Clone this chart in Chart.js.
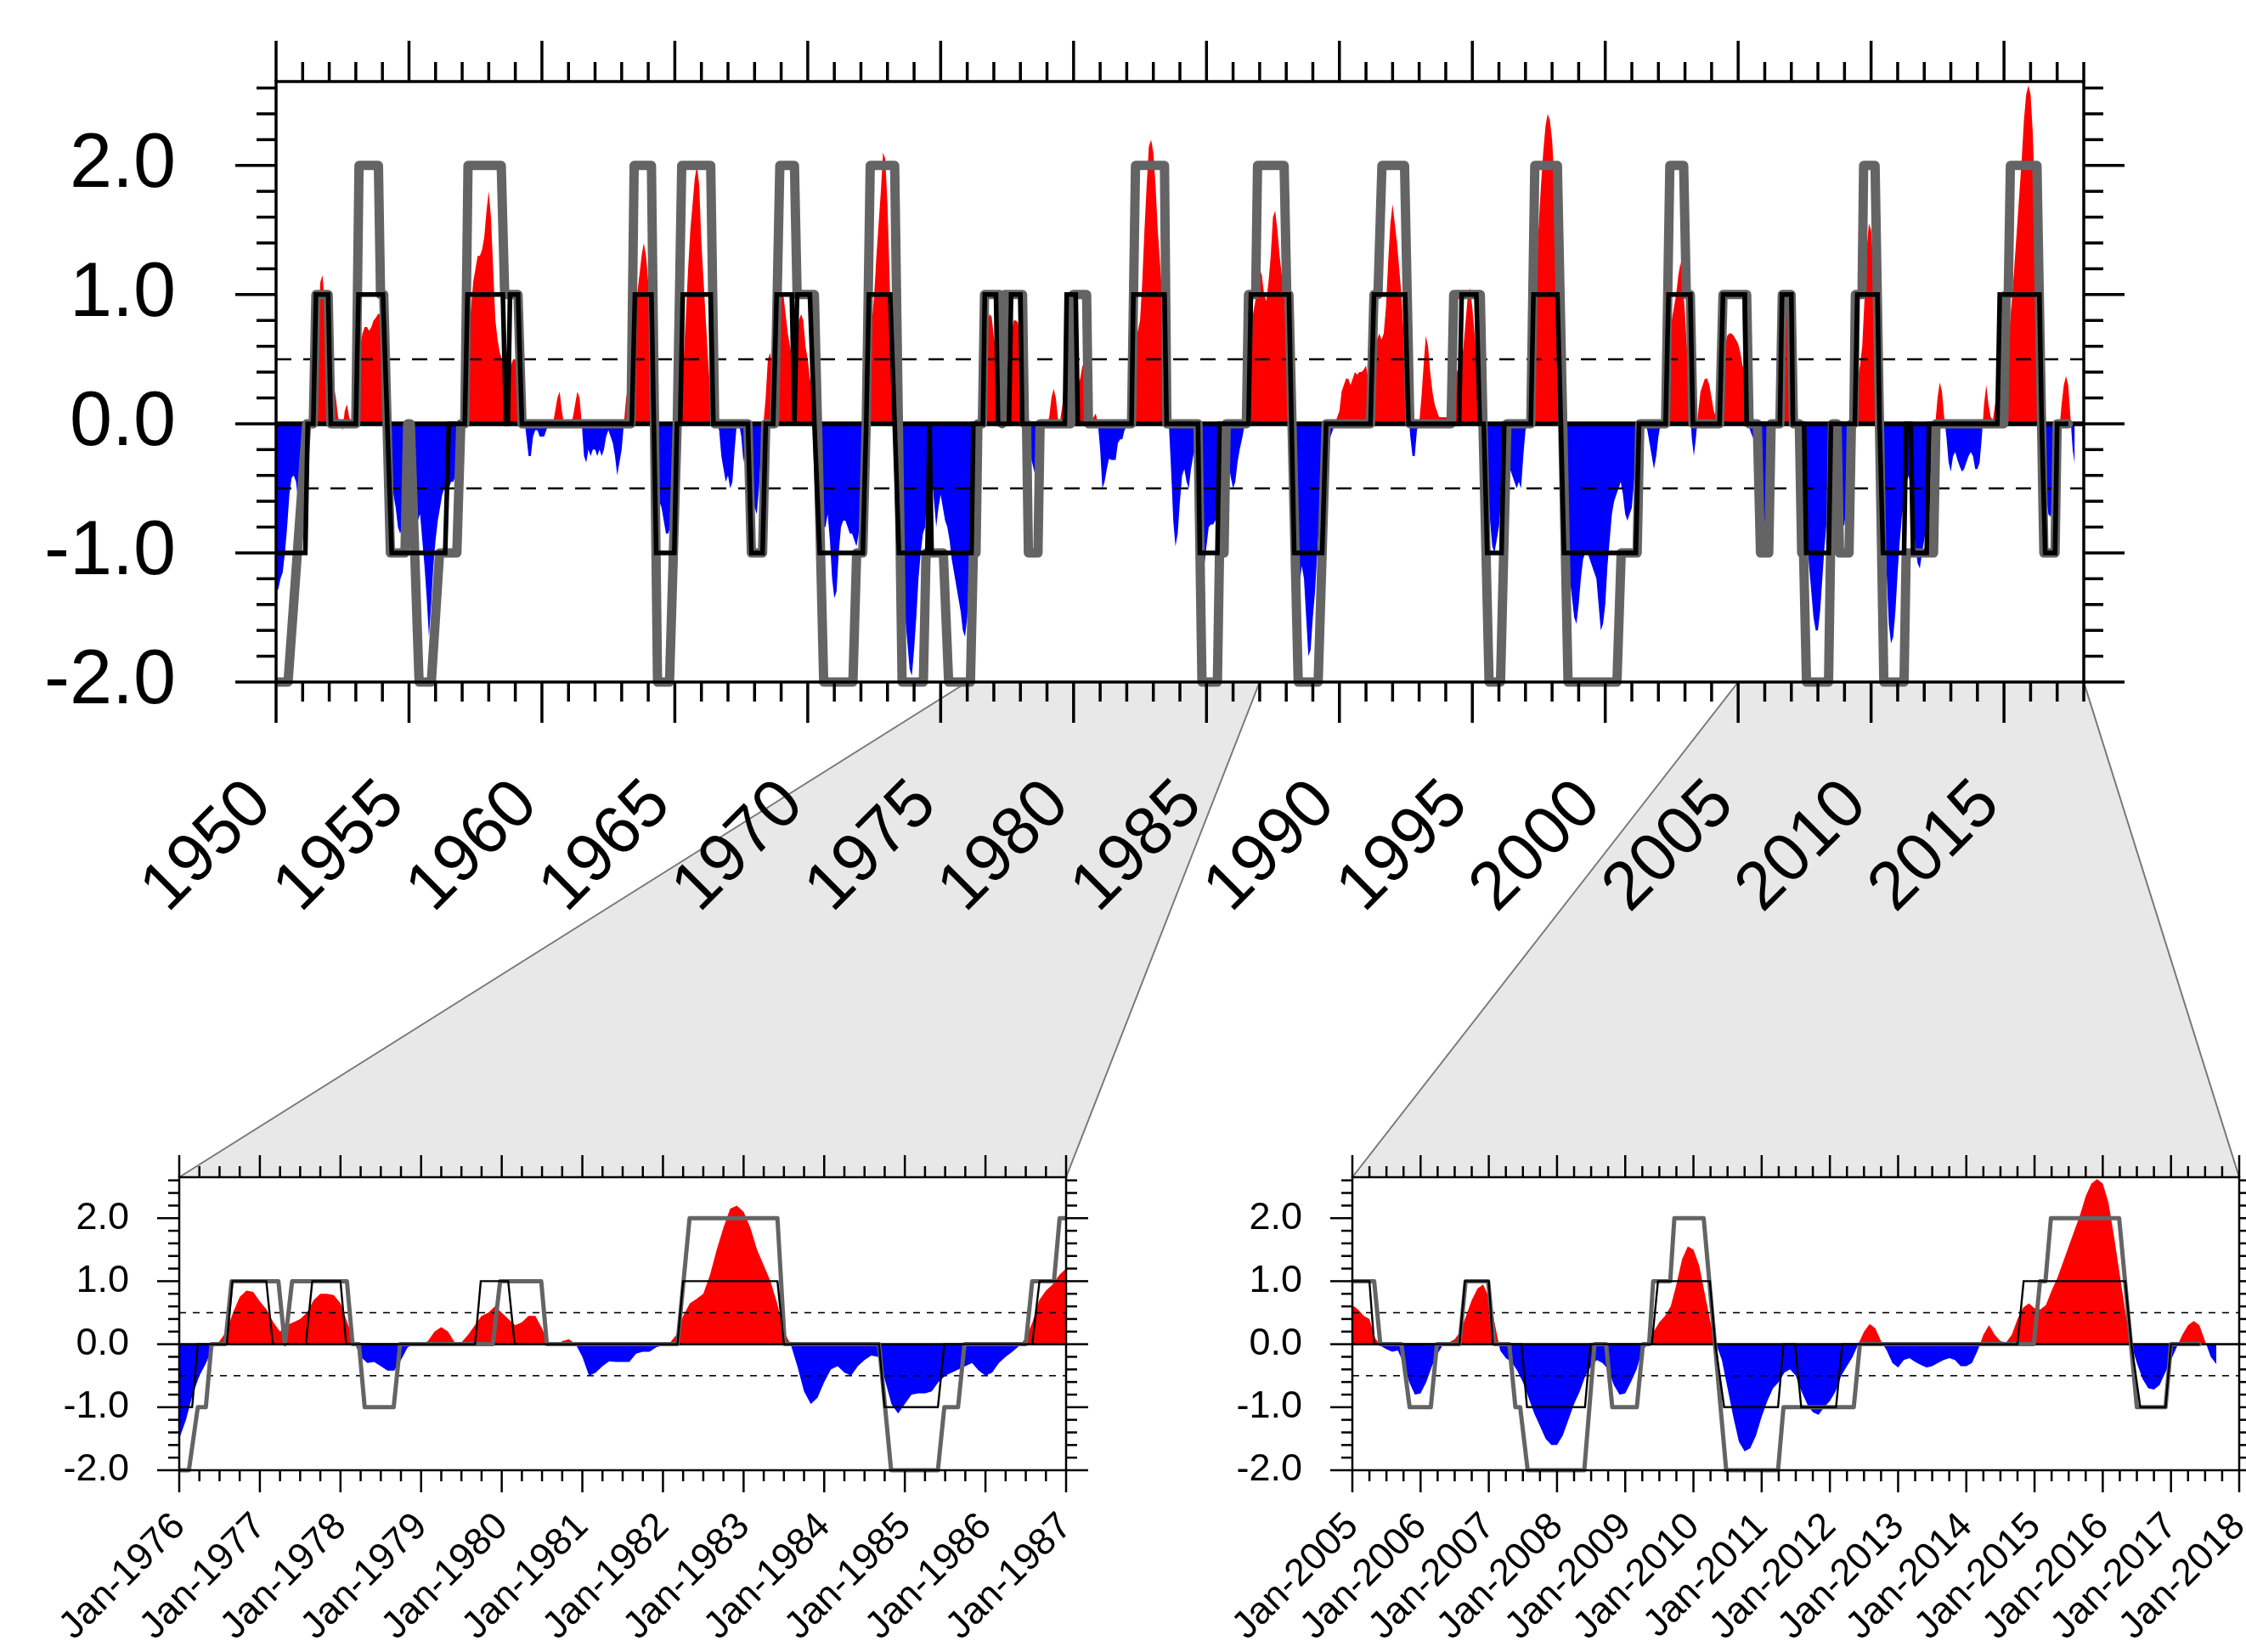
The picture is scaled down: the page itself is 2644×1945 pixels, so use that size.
<!DOCTYPE html>
<html>
<head>
<meta charset="utf-8">
<title>Nino index and event classes</title>
<script src="https://cdn.jsdelivr.net/npm/chart.js@4"></script>
<style>
  body { margin: 0; background: #fff; }
  #wrap { position: relative; width: 2644px; height: 1945px; }
  #wrap canvas { position: absolute; left: 0; top: 0; }
</style>
</head>
<body>
<div id="wrap">
  <canvas id="links" width="2644" height="1945"></canvas>
  <canvas id="mainChart" width="2644" height="1945"></canvas>
  <canvas id="zoomA" width="2644" height="1945"></canvas>
  <canvas id="zoomB" width="2644" height="1945"></canvas>
</div>
<script>
// monthly index, Jan 1950 .. Sep 2017, one row per year
const startYear = 1950;
const indexValues = [
  -1.30, -1.28, -1.20, -1.15, -1.00, -0.80, -0.55, -0.42, -0.40, -0.45, -0.60, -0.78, // 1950
  -0.85, -0.60, -0.40, -0.10, 0.10, 0.30, 0.55, 0.80, 1.10, 1.15, 0.90, 0.70,
  0.45, 0.30, 0.30, 0.20, 0.05, 0.00, -0.05, 0.10, 0.15, 0.05, 0.00, 0.10,
  0.35, 0.50, 0.60, 0.70, 0.75, 0.75, 0.72, 0.75, 0.80, 0.82, 0.85, 0.85,
  0.70, 0.40, 0.00, -0.30, -0.50, -0.55, -0.65, -0.80, -0.85, -0.80, -0.75, -0.75,
  -0.75, -0.70, -0.75, -0.80, -0.75, -0.70, -0.90, -1.10, -1.35, -1.65, -1.40, -1.10, // 1955
  -0.90, -0.75, -0.65, -0.55, -0.50, -0.55, -0.50, -0.45, -0.45, -0.40, -0.35, -0.25,
  -0.10, 0.10, 0.40, 0.70, 0.90, 1.10, 1.20, 1.30, 1.30, 1.35, 1.45, 1.65,
  1.80, 1.60, 1.20, 0.80, 0.65, 0.55, 0.50, 0.40, 0.35, 0.40, 0.45, 0.50,
  0.50, 0.45, 0.35, 0.20, 0.05, -0.10, -0.25, -0.25, -0.10, -0.05, -0.05, -0.10,
  -0.10, -0.10, -0.05, 0.00, 0.00, 0.00, 0.10, 0.20, 0.25, 0.10, 0.00, 0.00, // 1960
  0.00, 0.00, 0.05, 0.15, 0.25, 0.20, 0.00, -0.25, -0.30, -0.20, -0.25, -0.20,
  -0.20, -0.25, -0.20, -0.25, -0.20, -0.10, -0.05, -0.10, -0.15, -0.25, -0.40, -0.30,
  -0.20, 0.00, 0.20, 0.30, 0.35, 0.50, 0.80, 1.00, 1.15, 1.30, 1.40, 1.30,
  1.10, 0.60, 0.10, -0.30, -0.55, -0.60, -0.65, -0.75, -0.85, -0.85, -0.80, -0.80,
  -0.60, -0.35, -0.10, 0.20, 0.50, 0.85, 1.20, 1.50, 1.70, 1.90, 2.00, 1.85, // 1965
  1.40, 1.10, 0.80, 0.50, 0.25, 0.15, 0.10, 0.00, -0.05, -0.25, -0.35, -0.45,
  -0.40, -0.50, -0.45, -0.20, 0.00, 0.00, -0.10, -0.30, -0.15, -0.20, -0.40, -0.60,
  -0.65, -0.70, -0.50, -0.20, 0.00, 0.20, 0.50, 0.55, 0.45, 0.50, 0.70, 0.90,
  1.00, 1.00, 0.85, 0.70, 0.60, 0.50, 0.45, 0.60, 0.80, 0.85, 0.80, 0.60,
  0.50, 0.35, 0.25, 0.10, 0.00, -0.30, -0.60, -0.80, -0.80, -0.70, -0.90, -1.20, // 1970
  -1.35, -1.30, -1.00, -0.80, -0.75, -0.75, -0.80, -0.85, -0.85, -0.90, -0.95, -0.85,
  -0.60, -0.30, 0.00, 0.30, 0.55, 0.80, 1.00, 1.30, 1.55, 1.80, 2.10, 2.05,
  1.70, 1.10, 0.50, -0.10, -0.50, -0.90, -1.10, -1.30, -1.50, -1.70, -1.90, -1.95,
  -1.75, -1.50, -1.20, -1.00, -0.85, -0.80, -0.50, -0.40, -0.40, -0.60, -0.80, -0.65,
  -0.55, -0.65, -0.75, -0.80, -0.90, -1.05, -1.15, -1.25, -1.35, -1.45, -1.60, -1.65, // 1975
  -1.50, -1.20, -0.80, -0.50, -0.30, -0.05, 0.05, 0.20, 0.50, 0.75, 0.85, 0.83,
  0.68, 0.55, 0.35, 0.20, 0.30, 0.35, 0.40, 0.50, 0.70, 0.80, 0.80, 0.78,
  0.65, 0.35, 0.05, -0.20, -0.30, -0.28, -0.35, -0.42, -0.42, -0.25, -0.05, 0.00,
  0.00, 0.05, 0.20, 0.27, 0.20, 0.03, 0.03, 0.15, 0.30, 0.45, 0.50, 0.60,
  0.50, 0.40, 0.30, 0.35, 0.45, 0.45, 0.25, 0.00, -0.02, 0.05, 0.08, 0.00, // 1980
  -0.20, -0.50, -0.45, -0.35, -0.27, -0.28, -0.28, -0.28, -0.15, -0.12, -0.12, -0.05,
  -0.02, 0.02, 0.15, 0.45, 0.65, 0.72, 0.80, 1.10, 1.50, 1.85, 2.15, 2.20,
  2.10, 1.85, 1.50, 1.25, 1.00, 0.65, 0.20, 0.00, -0.35, -0.75, -0.95, -0.85,
  -0.60, -0.40, -0.35, -0.45, -0.50, -0.35, -0.25, -0.18, -0.20, -0.55, -0.95, -1.10,
  -0.95, -0.80, -0.78, -0.78, -0.75, -0.60, -0.50, -0.45, -0.40, -0.35, -0.30, -0.42, // 1985
  -0.50, -0.45, -0.30, -0.20, -0.12, -0.03, 0.10, 0.35, 0.70, 0.85, 0.95, 1.10,
  1.20, 1.15, 1.00, 0.95, 1.10, 1.30, 1.60, 1.65, 1.50, 1.30, 1.15, 1.00,
  0.75, 0.45, 0.10, -0.30, -0.80, -1.20, -1.25, -1.10, -1.20, -1.50, -1.80, -1.75,
  -1.50, -1.30, -1.00, -0.75, -0.55, -0.40, -0.25, -0.20, -0.10, -0.05, 0.00, 0.05,
  0.10, 0.25, 0.30, 0.35, 0.35, 0.30, 0.35, 0.40, 0.38, 0.40, 0.40, 0.42, // 1990
  0.45, 0.35, 0.30, 0.35, 0.50, 0.65, 0.70, 0.65, 0.70, 0.90, 1.25, 1.55,
  1.70, 1.55, 1.40, 1.20, 1.00, 0.70, 0.35, 0.10, -0.10, -0.25, -0.25, -0.05,
  0.00, 0.20, 0.45, 0.68, 0.60, 0.40, 0.25, 0.15, 0.10, 0.05, 0.05, 0.05,
  0.05, 0.05, 0.10, 0.20, 0.30, 0.40, 0.45, 0.45, 0.60, 0.80, 1.00, 1.05,
  0.90, 0.70, 0.50, 0.30, 0.10, 0.00, -0.20, -0.50, -0.75, -0.95, -1.00, -0.90, // 1995
  -0.80, -0.60, -0.40, -0.30, -0.30, -0.35, -0.40, -0.45, -0.50, -0.45, -0.50, -0.25,
  -0.05, 0.00, 0.10, 0.40, 0.80, 1.20, 1.55, 1.85, 2.10, 2.30, 2.40, 2.35,
  2.20, 1.90, 1.40, 1.00, 0.50, -0.10, -0.70, -1.00, -1.20, -1.35, -1.50, -1.55,
  -1.40, -1.20, -1.05, -1.00, -1.00, -1.05, -1.10, -1.15, -1.20, -1.40, -1.60, -1.55,
  -1.40, -1.10, -0.90, -0.70, -0.60, -0.55, -0.50, -0.45, -0.55, -0.70, -0.75, -0.70, // 2000
  -0.65, -0.45, -0.30, -0.15, -0.05, 0.00, 0.00, -0.05, -0.15, -0.25, -0.35, -0.25,
  -0.10, 0.00, 0.10, 0.20, 0.40, 0.65, 0.80, 0.90, 1.00, 1.15, 1.25, 1.10,
  0.85, 0.55, 0.25, -0.10, -0.25, -0.10, 0.10, 0.25, 0.30, 0.35, 0.35, 0.30,
  0.20, 0.10, 0.05, 0.10, 0.20, 0.40, 0.60, 0.68, 0.70, 0.70, 0.68, 0.65,
  0.62, 0.55, 0.45, 0.40, 0.10, -0.03, -0.08, -0.12, -0.10, -0.30, -0.60, -0.80, // 2005
  -0.78, -0.60, -0.35, -0.15, 0.00, 0.03, 0.08, 0.20, 0.45, 0.70, 0.88, 0.95,
  0.75, 0.35, -0.10, -0.22, -0.28, -0.42, -0.60, -0.85, -1.10, -1.30, -1.50, -1.60,
  -1.60, -1.45, -1.20, -0.95, -0.75, -0.50, -0.35, -0.25, -0.30, -0.40, -0.65, -0.80,
  -0.78, -0.60, -0.40, -0.10, 0.00, 0.20, 0.35, 0.45, 0.60, 0.95, 1.35, 1.55,
  1.50, 1.25, 0.80, 0.35, 0.00, -0.25, -0.70, -1.15, -1.55, -1.70, -1.65, -1.45, // 2010
  -1.15, -0.90, -0.70, -0.60, -0.45, -0.40, -0.50, -0.75, -0.95, -1.08, -1.12, -1.00,
  -0.90, -0.75, -0.50, -0.35, -0.20, 0.00, 0.20, 0.32, 0.25, 0.05, -0.10, -0.30,
  -0.37, -0.25, -0.22, -0.28, -0.33, -0.37, -0.35, -0.30, -0.25, -0.22, -0.25, -0.35,
  -0.35, -0.30, -0.10, 0.15, 0.30, 0.15, 0.05, 0.03, 0.15, 0.40, 0.58, 0.65,
  0.57, 0.55, 0.62, 0.85, 1.05, 1.30, 1.55, 1.80, 2.05, 2.35, 2.55, 2.62, // 2015
  2.55, 2.25, 1.70, 1.10, 0.50, 0.00, -0.30, -0.55, -0.70, -0.72, -0.65, -0.45,
  -0.25, -0.05, 0.15, 0.30, 0.37, 0.30, 0.05, -0.20, -0.32
];

// event class lines, [year, level] corner points
const blackPath = [
  [1950.00, -1], [1951.10, -1], [1951.19, 0], [1951.40, 0], [1951.50, 1], [1951.96, 1], [1952.06, 0],
  [1953.00, 0], [1953.10, 1], [1954.02, 1], [1954.35, -1], [1956.36, -1], [1956.50, 0], [1957.10, 0],
  [1957.20, 1], [1958.53, 1], [1958.65, 0], [1958.72, 0], [1958.80, 1], [1959.10, 1], [1959.25, 0],
  [1963.38, 0], [1963.50, 1], [1964.12, 1], [1964.30, -1], [1964.98, -1], [1965.08, 0], [1965.20, 0],
  [1965.30, 1], [1966.35, 1], [1966.45, 0], [1967.75, 0], [1967.88, -1], [1968.30, -1], [1968.42, 0],
  [1968.70, 0], [1968.83, 1], [1969.40, 1], [1969.50, 0], [1969.60, 1], [1970.08, 1], [1970.25, 0],
  [1970.45, -1], [1972.07, -1], [1972.20, 0], [1972.30, 1], [1973.10, 1], [1973.27, 0], [1973.43, -1],
  [1974.50, -1], [1974.58, 0], [1974.66, -1], [1976.16, -1], [1976.23, 0], [1976.59, 0], [1976.66, 1],
  [1977.08, 1], [1977.16, 0], [1977.57, 0], [1977.65, 1], [1978.00, 1], [1978.07, 0], [1979.67, 0],
  [1979.74, 1], [1980.08, 1], [1980.16, 0], [1982.18, 0], [1982.25, 1], [1983.42, 1], [1983.50, 0],
  [1984.68, 0], [1984.75, -1], [1985.41, -1], [1985.49, 0], [1986.58, 0], [1986.67, 1], [1988.10, 1],
  [1988.20, 0], [1988.30, -1], [1989.35, -1], [1989.50, 0], [1991.17, 0], [1991.30, 1], [1992.47, 1],
  [1992.60, 0], [1994.50, 0], [1994.60, 1], [1995.15, 1], [1995.28, 0], [1995.43, 0], [1995.56, -1],
  [1996.10, -1], [1996.20, 0], [1997.20, 0], [1997.30, 1], [1998.20, 1], [1998.33, 0], [1998.45, -1],
  [2001.15, -1], [2001.27, 0], [2002.27, 0], [2002.38, 1], [2003.20, 1], [2003.30, 0], [2004.30, 0],
  [2004.43, 1], [2005.25, 1], [2005.32, 0], [2006.57, 0], [2006.65, 1], [2007.00, 1], [2007.06, 0],
  [2007.48, 0], [2007.56, -1], [2008.41, -1], [2008.49, 0], [2009.39, 0], [2009.48, 1], [2010.24, 1],
  [2010.32, 0], [2010.45, -1], [2011.24, -1], [2011.32, 0], [2011.49, 0], [2011.58, -1], [2012.09, -1],
  [2012.18, 0], [2014.75, 0], [2014.84, 1], [2016.33, 1], [2016.42, 0], [2016.55, -1], [2016.92, -1],
  [2017.00, 0], [2017.42, 0]
];
const grayPath = [
  [1950.00, -2], [1950.45, -2], [1951.15, 0], [1951.40, 0], [1951.50, 1], [1951.96, 1], [1952.06, 0],
  [1953.00, 0], [1953.12, 2], [1953.85, 2], [1953.93, 1], [1954.05, 1], [1954.30, -1], [1954.85, -1],
  [1954.95, 0], [1955.05, 0], [1955.38, -2], [1955.84, -2], [1956.15, -1], [1956.80, -1], [1956.95, 0],
  [1957.10, 0], [1957.22, 2], [1958.47, 2], [1958.60, 1], [1959.10, 1], [1959.25, 0], [1963.35, 0],
  [1963.47, 2], [1964.12, 2], [1964.35, -2], [1964.80, -2], [1965.09, 0], [1965.26, 2], [1966.35, 2],
  [1966.50, 0], [1967.75, 0], [1967.88, -1], [1968.30, -1], [1968.42, 0], [1968.75, 0], [1968.95, 2],
  [1969.50, 2], [1969.60, 1], [1970.25, 1], [1970.60, -2], [1971.70, -2], [1971.84, -1], [1972.07, -1],
  [1972.20, 0], [1972.35, 2], [1973.27, 2], [1973.55, -2], [1974.35, -2], [1974.45, -1], [1975.10, -1],
  [1975.30, -2], [1976.12, -2], [1976.23, -1], [1976.33, -1], [1976.40, 0], [1976.57, 0], [1976.65, 1],
  [1977.23, 1], [1977.31, 0], [1977.40, 1], [1978.08, 1], [1978.15, 0], [1978.23, 0], [1978.30, -1],
  [1978.66, -1], [1978.74, 0], [1979.89, 0], [1979.98, 1], [1980.49, 1], [1980.56, 0], [1982.18, 0],
  [1982.33, 2], [1983.42, 2], [1983.51, 0], [1984.68, 0], [1984.83, -2], [1985.41, -2], [1985.49, -1],
  [1985.66, -1], [1985.74, 0], [1986.50, 0], [1986.58, 1], [1986.85, 1], [1986.92, 2], [1987.92, 2],
  [1988.02, 1], [1988.10, 1], [1988.45, -2], [1989.20, -2], [1989.50, 0], [1991.17, 0], [1991.30, 1],
  [1991.45, 1], [1991.60, 2], [1992.45, 2], [1992.65, 0], [1994.20, 0], [1994.30, 1], [1995.30, 1],
  [1995.40, 0], [1995.63, -2], [1996.06, -2], [1996.30, 0], [1997.20, 0], [1997.35, 2], [1998.20, 2],
  [1998.60, -2], [2000.44, -2], [2000.60, -1], [2001.20, -1], [2001.30, 0], [2002.27, 0], [2002.43, 2],
  [2002.95, 2], [2003.05, 1], [2003.20, 1], [2003.30, 0], [2004.30, 0], [2004.43, 1], [2005.32, 1],
  [2005.41, 0], [2005.72, 0], [2005.84, -1], [2006.15, -1], [2006.24, 0], [2006.57, 0], [2006.66, 1],
  [2006.99, 1], [2007.08, 0], [2007.30, 0], [2007.39, -1], [2007.46, -1], [2007.57, -2], [2008.40, -2],
  [2008.55, 0], [2008.72, 0], [2008.81, -1], [2009.17, -1], [2009.26, 0], [2009.35, 0], [2009.41, 1],
  [2009.66, 1], [2009.72, 2], [2010.15, 2], [2010.48, -2], [2011.24, -2], [2011.32, -1], [2012.35, -1],
  [2012.44, 0], [2014.99, 0], [2015.08, 1], [2015.16, 1], [2015.24, 2], [2016.24, 2], [2016.50, -1],
  [2016.92, -1], [2017.00, 0], [2017.42, 0]
];

const dashLevels = [0.5, -0.5];
const yRange = [-2, 2.65];
const mainRange = [1950, 2018];
const zoomARange = [1976, 1987];
const zoomBRange = [2005, 2018];
const mainYearTicks = [1950, 1955, 1960, 1965, 1970, 1975, 1980, 1985, 1990, 1995, 2000, 2005, 2010, 2015];
const mainYearLabels = ['1950', '1955', '1960', '1965', '1970', '1975', '1980', '1985', '1990', '1995', '2000', '2005', '2010', '2015'];
const yTickValues = [-2, -1, 0, 1, 2];
const yTickLabels = ['-2.0', '-1.0', '0.0', '1.0', '2.0'];
const zoomAYears = [1976, 1977, 1978, 1979, 1980, 1981, 1982, 1983, 1984, 1985, 1986, 1987];
const zoomALabels = ['Jan-1976', 'Jan-1977', 'Jan-1978', 'Jan-1979', 'Jan-1980', 'Jan-1981', 'Jan-1982',
  'Jan-1983', 'Jan-1984', 'Jan-1985', 'Jan-1986', 'Jan-1987'];
const zoomBYears = [2005, 2006, 2007, 2008, 2009, 2010, 2011, 2012, 2013, 2014, 2015, 2016, 2017, 2018];
const zoomBLabels = ['Jan-2005', 'Jan-2006', 'Jan-2007', 'Jan-2008', 'Jan-2009', 'Jan-2010', 'Jan-2011',
  'Jan-2012', 'Jan-2013', 'Jan-2014', 'Jan-2015', 'Jan-2016', 'Jan-2017', 'Jan-2018'];

const FONT = '"Liberation Sans", Arial, Helvetica, sans-serif';
const monthPoints = indexValues.map((v, i) => ({ x: startYear + i / 12, y: v }));
const toPoints = path => path.map(p => ({ x: p[0], y: p[1] }));

// frame, outward ticks on all four sides, and axis labels
const frameAxes = {
  id: 'frameAxes',
  afterDraw(chart, args, o) {
    const ctx = chart.ctx, a = chart.chartArea;
    const xs = chart.scales.x, ys = chart.scales.y;
    const line = (x1, y1, x2, y2) => { ctx.beginPath(); ctx.moveTo(x1, y1); ctx.lineTo(x2, y2); ctx.stroke(); };
    ctx.save();
    ctx.strokeStyle = '#000';
    ctx.fillStyle = '#000';
    ctx.lineWidth = o.tickWidth;

    const nx = Math.round((xs.max - xs.min) / o.xMinorStep);
    for (let i = 0; i <= nx; i++) {
      const v = xs.min + i * o.xMinorStep;
      const len = o.xTicks.some(t => Math.abs(t - v) < 1e-6) ? o.majorLen : o.minorLen;
      const px = xs.getPixelForValue(v);
      line(px, a.top, px, a.top - len);
      line(px, a.bottom, px, a.bottom + len);
    }
    const ny = Math.floor((ys.max - ys.min) / 0.2 + 1e-6);
    for (let i = 0; i <= ny; i++) {
      const v = ys.min + i * 0.2;
      const len = yTickValues.some(t => Math.abs(t - v) < 1e-6) ? o.majorLen : o.minorLen;
      const py = ys.getPixelForValue(v);
      line(a.left, py, a.left - len, py);
      line(a.right, py, a.right + len, py);
    }

    ctx.lineWidth = o.frameWidth;
    ctx.strokeRect(a.left, a.top, a.right - a.left, a.bottom - a.top);

    ctx.font = o.yFont + 'px ' + FONT;
    ctx.textAlign = 'right';
    ctx.textBaseline = 'middle';
    yTickValues.forEach((v, i) => ctx.fillText(yTickLabels[i], a.left - o.yGap, ys.getPixelForValue(v)));

    ctx.font = o.xFont + 'px ' + FONT;
    ctx.textBaseline = 'alphabetic';
    o.xTicks.forEach((v, i) => {
      ctx.save();
      ctx.translate(xs.getPixelForValue(v) + o.xDx, a.bottom + o.xDy);
      ctx.rotate(-Math.PI / 4);
      ctx.fillText(o.xLabels[i], 0, 0);
      ctx.restore();
    });
    ctx.restore();
  }
};

function makeChart(id, range, pad, st, axes) {
  const flat = y => [{ x: range[0], y: y }, { x: range[1], y: y }];
  const lineClip = { left: 0, right: 0, top: 0, bottom: false };
  const datasets = [
    { data: monthPoints, borderWidth: 0, pointRadius: 0, order: 5, clip: 0,
      fill: { target: 'origin', above: '#ff0000', below: '#0000ff' } },
    ...dashLevels.map(l => ({ data: flat(l), borderColor: '#000', borderWidth: st.dashWidth,
      borderDash: st.dash, pointRadius: 0, fill: false, order: 4, clip: 0 })),
    { data: flat(0), borderColor: '#000', borderWidth: st.zeroWidth, pointRadius: 0, fill: false, order: 3, clip: 0 },
    { data: toPoints(grayPath), borderColor: '#646464', borderWidth: st.grayWidth, pointRadius: 0,
      fill: false, order: 2, clip: lineClip, borderJoinStyle: 'round', borderCapStyle: 'round' },
    { data: toPoints(blackPath), borderColor: '#000', borderWidth: st.blackWidth, pointRadius: 0,
      fill: false, order: 1, clip: lineClip, borderJoinStyle: 'miter' }
  ];
  datasets.forEach(d => { d.tension = 0; });
  return new Chart(document.getElementById(id), {
    type: 'line',
    data: { datasets: datasets },
    options: {
      responsive: false,
      animation: false,
      devicePixelRatio: 1,
      events: [],
      layout: { padding: pad },
      scales: {
        x: { type: 'linear', min: range[0], max: range[1], display: false },
        y: { type: 'linear', min: yRange[0], max: yRange[1], display: false }
      },
      plugins: { legend: { display: false }, tooltip: { enabled: false }, frameAxes: axes }
    },
    plugins: [frameAxes]
  });
}

const bigStyle = { dashWidth: 2.5, dash: [18, 14], zeroWidth: 5.5, grayWidth: 11, blackWidth: 5.5 };
const smallStyle = { dashWidth: 1.6, dash: [8, 8], zeroWidth: 2.6, grayWidth: 5, blackWidth: 2.4 };

const main = makeChart('mainChart', mainRange, { left: 325, top: 96, right: 191, bottom: 1142 }, bigStyle, {
  xTicks: mainYearTicks, xLabels: mainYearLabels, xMinorStep: 1,
  majorLen: 48, minorLen: 23, tickWidth: 3.5, frameWidth: 3.5,
  yFont: 90, yGap: 118, xFont: 80, xDx: -2, xDy: 147
});
const zoomA = makeChart('zoomA', zoomARange, { left: 211, top: 1386, right: 1389, bottom: 214 }, smallStyle, {
  xTicks: zoomAYears, xLabels: zoomALabels, xMinorStep: 0.25,
  majorLen: 26, minorLen: 13, tickWidth: 2.5, frameWidth: 2.5,
  yFont: 45, yGap: 59, xFont: 45, xDx: 9, xDy: 68
});
const zoomB = makeChart('zoomB', zoomBRange, { left: 1592, top: 1386, right: 8, bottom: 214 }, smallStyle, {
  xTicks: zoomBYears, xLabels: zoomBLabels, xMinorStep: 0.25,
  majorLen: 26, minorLen: 13, tickWidth: 2.5, frameWidth: 2.5,
  yFont: 45, yGap: 59, xFont: 45, xDx: 9, xDy: 68
});

// grey wedges joining the zoomed spans to the small panels
const links = document.getElementById('links').getContext('2d');
links.fillStyle = '#fff';
links.fillRect(0, 0, 2644, 1945);
[[zoomARange, zoomA], [zoomBRange, zoomB]].forEach(([r, z]) => {
  const x1 = main.scales.x.getPixelForValue(r[0]);
  const x2 = main.scales.x.getPixelForValue(r[1]);
  const yb = main.chartArea.bottom, za = z.chartArea;
  links.beginPath();
  links.moveTo(x1, yb); links.lineTo(x2, yb); links.lineTo(za.right, za.top); links.lineTo(za.left, za.top);
  links.closePath();
  links.fillStyle = '#e8e8e8';
  links.fill();
  links.strokeStyle = '#777';
  links.lineWidth = 2;
  links.beginPath();
  links.moveTo(x1, yb); links.lineTo(za.left, za.top);
  links.moveTo(x2, yb); links.lineTo(za.right, za.top);
  links.stroke();
});
</script>
</body>
</html>
